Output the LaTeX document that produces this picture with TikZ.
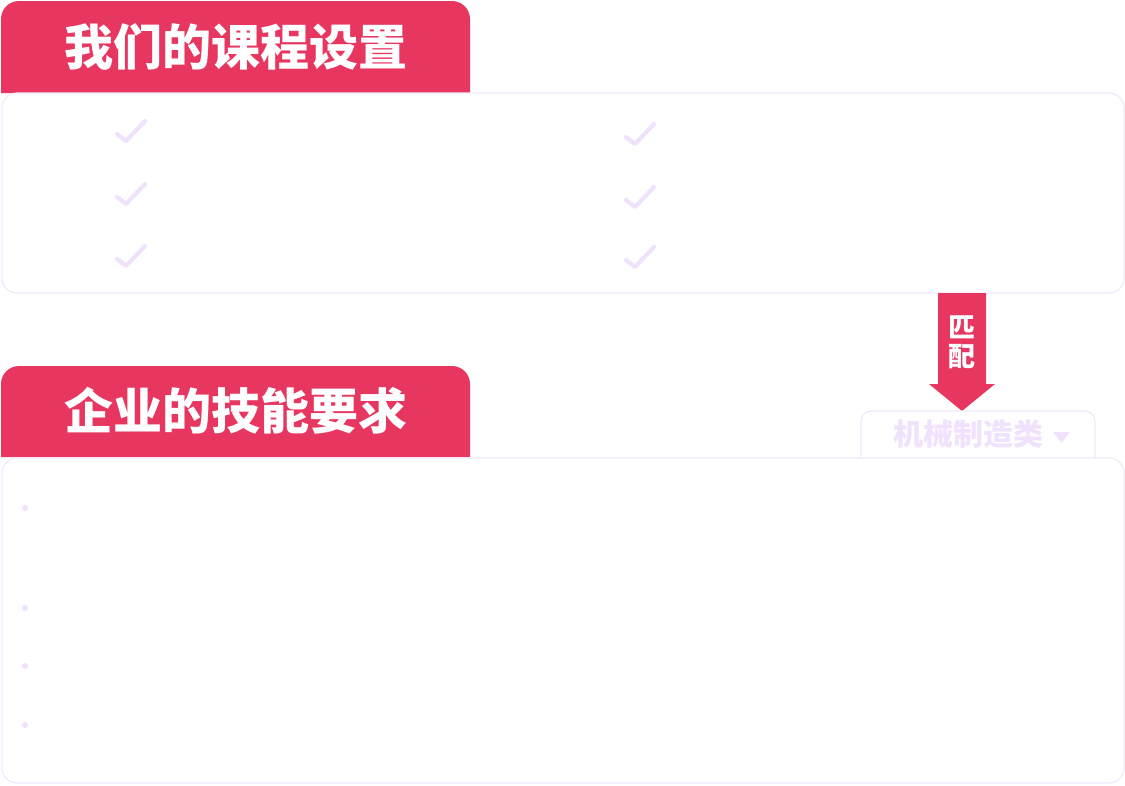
\documentclass[tikz,border=0pt]{standalone}
\usepackage{fontspec}
\newfontfamily\cjk{Noto Sans CJK SC}
\definecolor{hdred}{RGB}{231,54,95}
\definecolor{lavline}{RGB}{242,232,252}
\definecolor{lavmark}{RGB}{240,226,252}
\tikzset{
  headbox/.style={fill=hdred, draw=none},
  panel/.style={draw=lavline, line width=1.2pt, fill=white, rounded corners=15pt},
  headtext/.style={text=white, font=\cjk\bfseries\fontsize{49}{52}\selectfont, inner sep=0pt},
  arrowtext/.style={text=white, font=\cjk\bfseries\fontsize{27}{29}\selectfont, inner sep=0pt},
  checkmark/.style={draw=lavmark, line width=4.2pt, line cap=round, line join=round},
  bulletdot/.style={circle, fill=lavmark, inner sep=0pt, minimum size=6pt},
}
\begin{document}
\begin{tikzpicture}[x=1pt,y=-1pt]
\useasboundingbox (0,0) rectangle (1125,785);
% top header
\fill[headbox] (1,93) -- (1,19) arc[start angle=180, end angle=90, x radius=18, y radius=-18] -- (452,1) arc[start angle=90, end angle=0, x radius=18, y radius=-18] -- (470,93) -- cycle;
\node[headtext] (h1) at (236,47) {我们的课程设置};
% top panel
\draw[panel] (2,93) rectangle (1124,293);
% checks
\foreach \cx/\cy [count=\i] in {117/134, 117/197, 117/259, 626/137, 626/200, 626/260}{
  \draw[checkmark] (\cx,\cy) -- ++(9,7) -- ++(19,-20);
}
% arrow
\fill[hdred] (938,293) -- (986,293) -- (986,384) -- (995,384) -- (962,411) -- (929,384) -- (938,384) -- cycle;
\node[arrowtext] (m1) at (962,327) {匹};
\node[arrowtext] (m2) at (962,357) {配};
% bottom header
\fill[headbox] (1,457) -- (1,384) arc[start angle=180, end angle=90, x radius=18, y radius=-18] -- (452,366) arc[start angle=90, end angle=0, x radius=18, y radius=-18] -- (470,457) -- cycle;
\node[headtext] (h2) at (236,411) {企业的技能要求};
% dropdown
\draw[draw=lavline, line width=1.2pt, fill=white, rounded corners=10pt] (861,460) -- (861,411) -- (1095,411) -- (1095,460);
\node[text=lavmark, font=\cjk\bfseries\fontsize{30}{32}\selectfont, inner sep=0pt] (dd) at (968,434) {机械制造类};
\fill[lavmark] (1053,432) -- (1070,432) -- (1061.5,443) -- cycle;
% bottom panel
\draw[panel] (2,458) rectangle (1124,783);
\foreach \by in {508,608,666,725}{
  \node[bulletdot] at (25,\by) {};
}
\end{tikzpicture}
\end{document}
